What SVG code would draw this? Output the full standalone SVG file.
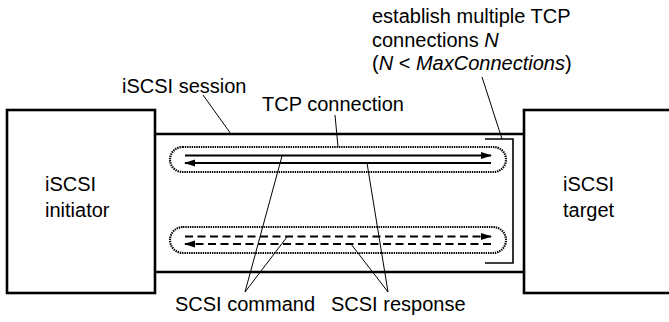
<svg xmlns="http://www.w3.org/2000/svg" width="669" height="322" viewBox="0 0 669 322">
<style>
  text { font-family: "Liberation Sans", Arial, sans-serif; font-size: 20px; fill: #000; }
  .box { fill: #fff; stroke: #000; stroke-width: 2.6; }
  .thick { stroke: #000; stroke-width: 2.6; fill: none; }
  .pill { fill: none; stroke: #000; stroke-width: 2.2; stroke-dasharray: 1.4 0.9; }
  .solid { stroke: #000; stroke-width: 2; fill: none; }
  .dash { stroke: #000; stroke-width: 2; fill: none; stroke-dasharray: 8 4.5; }
  .ptr { stroke: #000; stroke-width: 1; fill: none; }
  .bracket { stroke: #000; stroke-width: 1.6; fill: none; }
  .it { font-style: italic; }
</style>
<defs>
  <marker id="ah" markerWidth="11" markerHeight="8" refX="10" refY="4" orient="auto" markerUnits="userSpaceOnUse">
    <path d="M0,0.5 L11,4 L0,7.5 z" fill="#000"/>
  </marker>
</defs>

<g id="session">
  <line class="thick" x1="155" y1="134" x2="524" y2="134"/>
  <line class="thick" x1="155" y1="272" x2="524" y2="272"/>
</g>

<g id="initiator">
  <rect class="box" x="7" y="110" width="148" height="183"/>
  <text x="45" y="191">iSCSI</text>
  <text x="45" y="217">initiator</text>
</g>

<g id="target">
  <rect class="box" x="524" y="110" width="160" height="183"/>
  <text x="563" y="191">iSCSI</text>
  <text x="563" y="217">target</text>
</g>

<g id="tcp1">
  <rect class="pill" x="170" y="147" width="336" height="25" rx="12.5" ry="12.5"/>
</g>
<g id="tcp2">
  <rect class="pill" x="170" y="227" width="336" height="26" rx="13" ry="13"/>
</g>

<g id="bracket">
  <polyline class="bracket" points="485,139 513,139 513,263 485,263"/>
</g>

<g id="connectors">
  <line class="solid" x1="185" y1="155.5" x2="491" y2="155.5" marker-end="url(#ah)"/>
  <line class="solid" x1="491" y1="163" x2="185" y2="163" marker-end="url(#ah)"/>
  <line class="dash" x1="185" y1="236.5" x2="491" y2="236.5" marker-end="url(#ah)"/>
  <line class="dash" x1="491" y1="244" x2="185" y2="244" marker-end="url(#ah)"/>
  <line class="ptr" x1="203" y1="95" x2="231" y2="134"/>
  <line class="ptr" x1="335" y1="115" x2="338" y2="147"/>
  <line class="ptr" x1="482" y1="77" x2="502" y2="139"/>
  <line class="ptr" x1="282" y1="156" x2="245" y2="292"/>
  <line class="ptr" x1="287" y1="237" x2="245" y2="292"/>
  <line class="ptr" x1="367" y1="163" x2="388" y2="292"/>
  <line class="ptr" x1="351" y1="244" x2="388" y2="292"/>
</g>

<g id="labels">
  <text x="122" y="93">iSCSI session</text>
  <text x="262" y="111">TCP connection</text>
  <text x="372" y="23">establish multiple TCP</text>
  <text x="372" y="46.5">connections <tspan class="it">N</tspan></text>
  <text x="372" y="70">(<tspan class="it">N</tspan> &lt; <tspan class="it">MaxConnections</tspan>)</text>
  <text x="175" y="311">SCSI command</text>
  <text x="331" y="311">SCSI response</text>
</g>
</svg>
